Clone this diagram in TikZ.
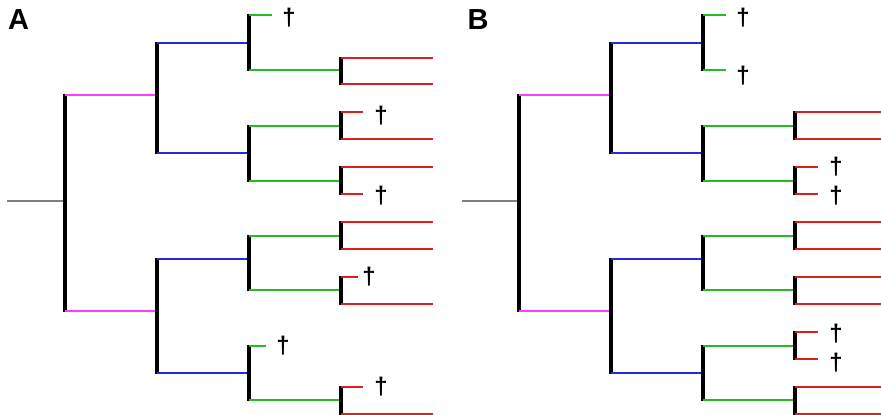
\documentclass[tikz,border=0pt]{standalone}
\usepackage{fontspec}
\setmainfont{Liberation Sans}
\definecolor{cgray}{RGB}{128,128,128}
\definecolor{cmag}{RGB}{255,60,255}
\definecolor{cblue}{RGB}{40,40,225}
\definecolor{cgreen}{RGB}{40,185,40}
\definecolor{cred}{RGB}{220,30,30}
\newcommand\tbar[3]{\draw[barline] (#1,#2-0.7) -- (#1,#3+0.7);}
\begin{document}
\begin{tikzpicture}[x=1pt,y=-1pt,
  barline/.style={line width=4.5pt,black},
  br/.style={line width=1.3pt},
  dg/.style={font=\bfseries\fontsize{24}{24}\selectfont,inner sep=0pt,anchor=center},
  lab/.style={font=\bfseries\fontsize{29}{29}\selectfont,inner sep=0pt,anchor=center}]
\useasboundingbox (0,0) rectangle (881,415);
% ---------------- Panel A ----------------
\node[lab] (labA) at (18.5,20) {A};
\draw[br,cgray] (7,201) -- (65,201);
\tbar{65}{95}{311}
\draw[br,cmag] (65,95) -- (157,95) (65,311) -- (157,311);
\tbar{157}{43}{153}
\tbar{157}{259}{373}
\draw[br,cblue] (157,43) -- (249,43) (157,153) -- (249,153)
                (157,259) -- (249,259) (157,373) -- (249,373);
\tbar{249}{15}{70}
\tbar{249}{126}{181}
\tbar{249}{236}{290}
\tbar{249}{346}{400}
\draw[br,cgreen] (249,15) -- (272,15) (249,70) -- (341,70)
                 (249,126) -- (341,126) (249,181) -- (341,181)
                 (249,236) -- (341,236) (249,290) -- (341,290)
                 (249,346) -- (266,346) (249,400) -- (341,400);
\node[dg] (dA1) at (289,18) {†};
\node[dg] (dA2) at (283,346) {†};
\tbar{341}{58}{84}
\tbar{341}{112}{139}
\tbar{341}{167}{194}
\tbar{341}{222}{249}
\tbar{341}{277}{304}
\tbar{341}{387}{414}
\draw[br,cred] (341,58) -- (433,58) (341,84) -- (433,84)
               (341,112) -- (363,112) (341,139) -- (433,139)
               (341,167) -- (433,167) (341,194) -- (363,194)
               (341,222) -- (433,222) (341,249) -- (433,249)
               (341,277) -- (358,277) (341,304) -- (433,304)
               (341,387) -- (363,387) (341,414) -- (433,414);
\node[dg] (dA3) at (381,116) {†};
\node[dg] (dA4) at (381,195.5) {†};
\node[dg] (dA5) at (369,277) {†};
\node[dg] (dA6) at (381,386.5) {†};
% ---------------- Panel B ----------------
\node[lab] (labB) at (478,20) {B};
\draw[br,cgray] (462,201) -- (519,201);
\tbar{519}{95}{311}
\draw[br,cmag] (519,95) -- (611,95) (519,311) -- (611,311);
\tbar{611}{43}{153}
\tbar{611}{259}{373}
\draw[br,cblue] (611,43) -- (703,43) (611,153) -- (703,153)
                (611,259) -- (703,259) (611,373) -- (703,373);
\tbar{703}{15}{70}
\tbar{703}{126}{181}
\tbar{703}{236}{290}
\tbar{703}{346}{400}
\draw[br,cgreen] (703,15) -- (726,15) (703,70) -- (726,70)
                 (703,126) -- (795,126) (703,181) -- (795,181)
                 (703,236) -- (795,236) (703,290) -- (795,290)
                 (703,346) -- (795,346) (703,400) -- (795,400);
\node[dg] (dB1) at (743,18) {†};
\node[dg] (dB2) at (743,75.5) {†};
\tbar{795}{112}{139}
\tbar{795}{167}{194}
\tbar{795}{222}{249}
\tbar{795}{277}{304}
\tbar{795}{332}{359}
\tbar{795}{387}{414}
\draw[br,cred] (795,112) -- (881,112) (795,139) -- (881,139)
               (795,167) -- (818,167) (795,194) -- (818,194)
               (795,222) -- (881,222) (795,249) -- (881,249)
               (795,277) -- (881,277) (795,304) -- (881,304)
               (795,332) -- (818,332) (795,359) -- (818,359)
               (795,387) -- (881,387) (795,414) -- (881,414);
\node[dg] (dB3) at (836,167) {†};
\node[dg] (dB4) at (836,195.5) {†};
\node[dg] (dB5) at (836,334) {†};
\node[dg] (dB6) at (836,363) {†};
\end{tikzpicture}
\end{document}
